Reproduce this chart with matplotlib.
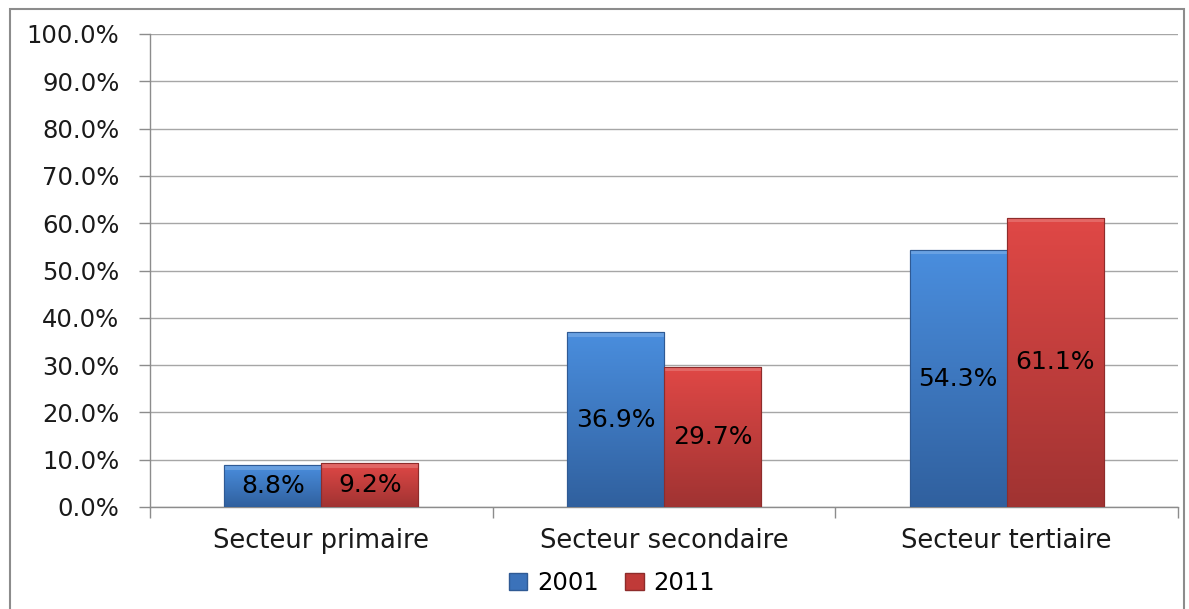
import numpy as np
import matplotlib
matplotlib.use("Agg")
import matplotlib.pyplot as plt
from matplotlib.colors import LinearSegmentedColormap
from matplotlib.patches import Rectangle

categories = ["Secteur primaire", "Secteur secondaire", "Secteur tertiaire"]
series_names = ["2001", "2011"]
values_2001 = [8.8, 36.9, 54.3]
values_2011 = [9.2, 29.7, 61.1]
yticks = [0, 10, 20, 30, 40, 50, 60, 70, 80, 90, 100]

plt.rcParams['font.family'] = ['DejaVu Sans']

fig = plt.figure(figsize=(11.89, 6.09), dpi=100)
ax = fig.add_axes([150/1189, 1-507/609, (1178-150)/1189, (507-34)/609])

# outer border
fig.add_artist(Rectangle((10/1189, -0.02), (1184-10)/1189, 1-9/609+0.02,
                         transform=fig.transFigure, fill=False,
                         edgecolor='#8c8c8c', lw=1.5))

x = np.arange(len(categories))
w = 0.283
grads = [("#4a8ede", "#30609e", "#2f5a94"), ("#e04846", "#a03332", "#8e2c2b")]
bars1 = ax.bar(x - w/2, values_2001, w, color="#3b78c4", zorder=3)
bars2 = ax.bar(x + w/2, values_2011, w, color="#c43c3a", zorder=3)

for bars, (ctop, cbot, cedge) in zip([bars1, bars2], grads):
    cmap = LinearSegmentedColormap.from_list("g", [cbot, ctop])
    for p in bars:
        x0, y0, bw, bh = p.get_x(), p.get_y(), p.get_width(), p.get_height()
        grad = np.linspace(0, 1, 256).reshape(-1, 1)
        im = ax.imshow(grad, extent=[x0, x0 + bw, y0, y0 + bh], origin='lower',
                       aspect='auto', cmap=cmap, zorder=3.5, interpolation='bicubic')
        im.set_clip_path(p)
        p.set_edgecolor(cedge)
        p.set_linewidth(0.8)
        # light bevel on top
        ax.add_patch(Rectangle((x0, y0 + bh - 0.9), bw, 0.9, facecolor='white',
                               alpha=0.18, lw=0, zorder=3.6))
        ax.add_patch(Rectangle((x0, y0), bw, bh, fill=False, edgecolor=cedge,
                               lw=0.8, zorder=3.7))
        ax.text(x0 + bw/2, y0 + bh/2, f"{bh:.1f}%", ha='center', va='center',
                fontsize=18, color='black', zorder=5)

ax.set_xlim(-0.5, len(categories) - 0.5)
ax.set_ylim(0, 100)
ax.set_yticks(yticks)
ax.set_yticklabels([f"{v:.1f}%" for v in yticks], fontsize=17.5, color='#1a1a1a')
ax.set_xticks(x)
ax.set_xticklabels(categories, fontsize=18.5, color='#1a1a1a')
ax.set_xticks(np.arange(len(categories) + 1) - 0.5, minor=True)
ax.tick_params(axis='x', which='major', length=0, pad=15)
ax.tick_params(axis='x', which='minor', length=8, color='#8c8c8c', width=1)
ax.tick_params(axis='y', length=8, color='#8c8c8c', width=1, pad=14)
ax.grid(axis='y', color='#a6a6a6', lw=1, zorder=0)
ax.set_axisbelow(True)
for s in ['top', 'right']:
    ax.spines[s].set_visible(False)
for s in ['left', 'bottom']:
    ax.spines[s].set_color('#8c8c8c')
    ax.spines[s].set_linewidth(1)

handles = [Rectangle((0, 0), 1, 1, facecolor="#3b72ba", edgecolor="#2f5a94"),
           Rectangle((0, 0), 1, 1, facecolor="#c03a38", edgecolor="#8e2c2b")]
fig.legend(handles, series_names, loc='center', bbox_to_anchor=(612/1189, 1-583/609),
           ncol=2, frameon=False, fontsize=17.5, handlelength=0.75, handleheight=0.75,
           handletextpad=0.4, columnspacing=1.1)

fig.savefig("out.png", dpi=100)
